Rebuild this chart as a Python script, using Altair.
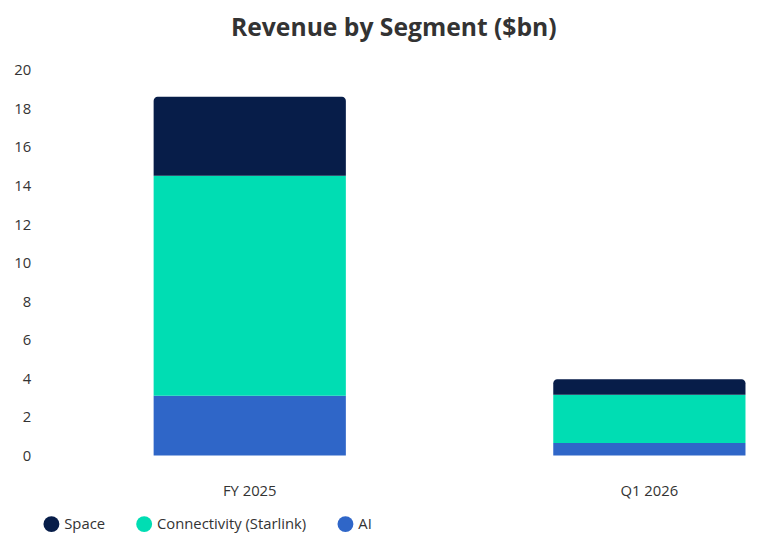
import pandas as pd
import altair as alt

periods = ["FY 2025", "Q1 2026"]
segments = ["Space", "Connectivity (Starlink)", "AI"]
space = [4.1, 0.8]
connectivity = [11.4, 2.5]
ai = [3.1, 0.65]
colors = ["#071D49", "#00DDB3", "#2F66C8"]

rows = []
for i, p in enumerate(periods):
    for seg, vals, order in [("AI", ai, 0), ("Connectivity (Starlink)", connectivity, 1), ("Space", space, 2)]:
        rows.append({"period": p, "segment": seg, "value": vals[i], "order": order})
df = pd.DataFrame(rows)

font = "Open Sans"
base = alt.Chart(df).transform_stack(
    stack="value", groupby=["period"], sort=[alt.SortField("order")], as_=["y0", "y1"]
)

xscale = alt.Scale(domain=periods, range=[0, 825], paddingInner=0.519, paddingOuter=0.278)
x = alt.X("period:N", title=None, sort=periods, scale=xscale, axis=None)
y = alt.Y("y0:Q", title=None, scale=alt.Scale(domain=[0, 20]),
          axis=alt.Axis(values=list(range(0, 21, 2)), domain=False, ticks=False, grid=False,
                        labelPadding=12, labelFontSize=15, labelColor="#333333", labelFont=font))
color = alt.Color("segment:N", title=None,
                  scale=alt.Scale(domain=segments, range=colors),
                  legend=alt.Legend(orient="bottom", symbolType="circle", symbolSize=260,
                                    labelFontSize=15, labelColor="#333333", labelFont=font,
                                    columnPadding=30, offset=60))

lower = base.transform_filter("datum.order < 2").mark_bar().encode(x=x, y=y, y2="y1:Q", color=color)
top = base.transform_filter("datum.order == 2").mark_bar(
    cornerRadiusTopLeft=4, cornerRadiusTopRight=4).encode(x=x, y=y, y2="y1:Q", color=color)
labels = base.transform_filter("datum.order == 0").mark_text(
    font=font, fontSize=15, color="#333333", baseline="middle").encode(
    x=alt.X("period:N", sort=periods, scale=xscale, axis=None, bandPosition=0.5),
    y=alt.value(427), text="period:N")

chart = (lower + top + labels).properties(
    width=712, height=391,
    title=alt.TitleParams("Revenue by Segment ($bn)", fontSize=25, font=font,
                          fontWeight="bold", color="#333333", offset=22)
).configure_view(stroke=None)

chart.save("out.html", embed_options={"renderer": "svg", "actions": False})
